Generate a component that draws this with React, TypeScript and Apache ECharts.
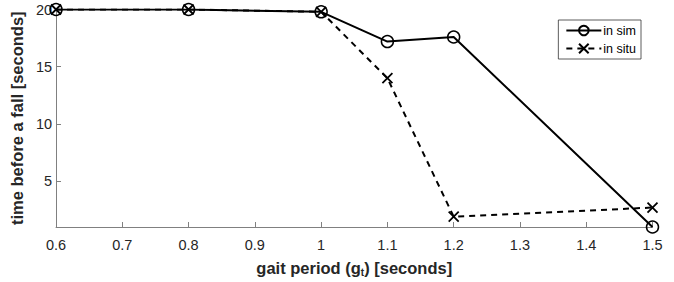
import React, { useEffect, useRef } from "react";
import * as echarts from "echarts";

const xValues = [0.6, 0.8, 1.0, 1.1, 1.2, 1.5];
const inSim = [20, 20, 19.8, 17.2, 17.6, 1.0];
const inSitu = [20, 20, 19.8, 14.0, 1.9, 2.7];
const yTicks = [5, 10, 15, 20];

const crossPath = "path://M0,0L10,10M10,0L0,10";

export default function App() {
  const ref = useRef<HTMLDivElement>(null);
  useEffect(() => {
    if (!ref.current) return;
    const chart = echarts.init(ref.current, undefined, { renderer: "svg" });
    const font = "Arial, 'Liberation Sans', sans-serif";
    chart.setOption({
      animation: false,
      backgroundColor: "#ffffff",
      textStyle: { fontFamily: font },
      grid: { left: 55, right: 21.5, top: 9.5, bottom: 51 },
      legend: {
        right: 33,
        top: 20,
        orient: "vertical",
        itemWidth: 35,
        itemHeight: 12,
        itemGap: 5,
        padding: [4, 5, 4, 7],
        borderColor: "#333",
        borderWidth: 0.8,
        backgroundColor: "#fff",
        textStyle: { fontSize: 12.5, color: "#000", fontFamily: font, padding: [0, 0, 0, -3] },
        data: ["in sim", "in situ"],
      },
      xAxis: {
        type: "value",
        min: 0.6,
        max: 1.5,
        interval: 0.1,
        name: "{b|gait period (g}{s|t}{b|) [seconds]}",
        nameLocation: "middle",
        nameGap: 31,
        nameTextStyle: {
          rich: {
            b: { fontSize: 16.5, fontWeight: "bold", color: "#262626", fontFamily: font },
            s: { fontSize: 10, fontWeight: "bold", color: "#262626", fontFamily: font, verticalAlign: "bottom", padding: [9, 0, 0, 0] },
          },
        },
        axisLine: { lineStyle: { color: "#808080", width: 1 } },
        axisTick: { inside: true, length: 5, lineStyle: { color: "#808080" } },
        axisLabel: {
          fontSize: 14.5,
          color: "#262626",
          margin: 10,
          formatter: (v: number) => String(Math.round(v * 10) / 10),
        },
        splitLine: { show: false },
      },
      yAxis: {
        type: "value",
        min: 1,
        max: 20,
        name: "time before a fall [seconds]",
        nameLocation: "middle",
        nameGap: 27,
        nameTextStyle: { fontSize: 16.5, fontWeight: "bold", color: "#262626" },
        axisLine: { show: true, lineStyle: { color: "#808080", width: 1 } },
        axisTick: {
          show: true,
          inside: true,
          length: 5,
          lineStyle: { color: "#808080" },
          customValues: yTicks,
        },
        axisLabel: {
          fontSize: 14.5,
          color: "#262626",
          margin: 4,
          customValues: yTicks,
        },
        splitLine: { show: false },
      },
      series: [
        {
          name: "in sim",
          type: "line",
          data: xValues.map((x, i) => [x, inSim[i]]),
          symbol: "circle",
          symbolSize: 12,
          lineStyle: { color: "#000", width: 2, type: "solid" },
          itemStyle: { color: "rgba(0,0,0,0)", borderColor: "#000", borderWidth: 1.5 },
          z: 3,
        },
        {
          name: "in situ",
          type: "line",
          data: xValues.map((x, i) => [x, inSitu[i]]),
          symbol: crossPath,
          symbolSize: 10,
          lineStyle: { color: "#000", width: 2, type: [6, 5] },
          itemStyle: { color: "rgba(0,0,0,0)", borderColor: "#000", borderWidth: 1.8 },
          z: 2,
        },
      ],
    });
    return () => chart.dispose();
  }, []);
  return (
    <div
      ref={ref}
      style={{ width: 674, height: 282, position: "absolute", left: 0, top: 0 }}
    />
  );
}
